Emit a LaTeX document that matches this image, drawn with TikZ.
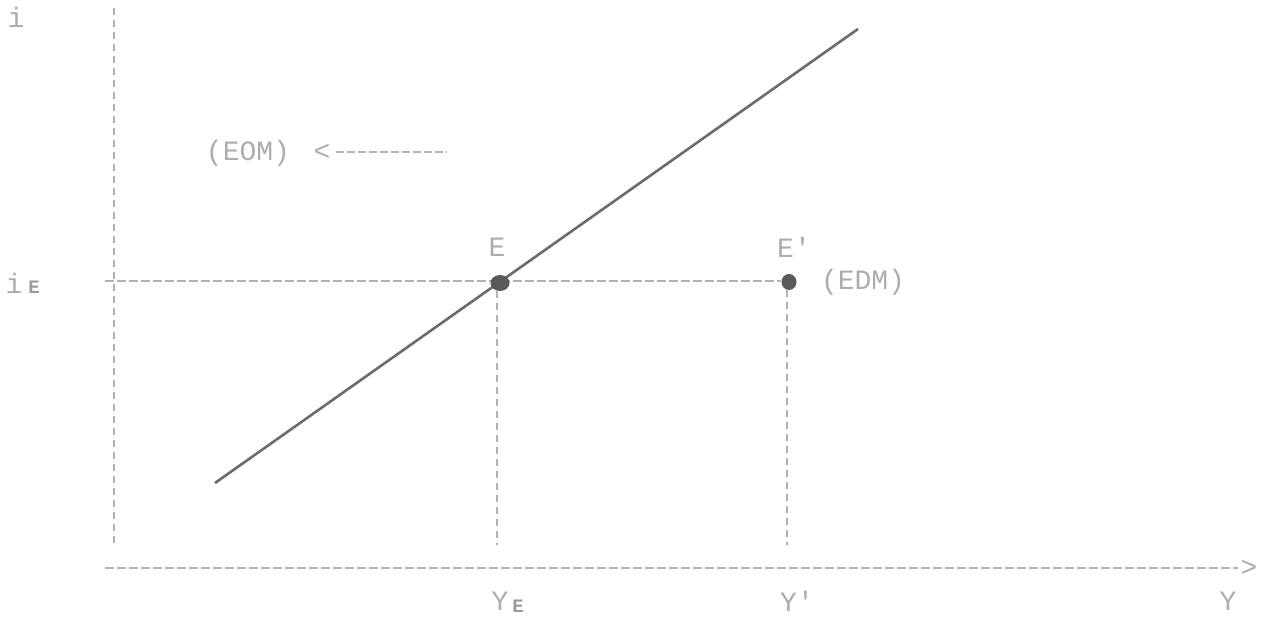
\documentclass[tikz,border=0pt]{standalone}
\usepackage{fontspec}
\setmonofont{Liberation Mono}
\usetikzlibrary{shapes.geometric}
\begin{document}
\begin{tikzpicture}[x=1pt,y=-1pt,
  lbl/.style={text=black!32, font=\ttfamily\fontsize{28}{28}\selectfont, inner sep=0pt},
  sub/.style={text=black!40, font=\ttfamily\bfseries\fontsize{19}{19}\selectfont, inner sep=0pt},
  guide/.style={draw=black!30, line width=1.3pt, dash pattern=on 9pt off 3pt},
  vguide/.style={draw=black!30, line width=1.3pt, dash pattern=on 7pt off 5pt},
  curve/.style={draw=black!58, line width=2.6pt},
  dot/.style={ellipse, fill=black!65, minimum width=19pt, minimum height=16pt, inner sep=0pt}]
\useasboundingbox[fill=white] (0,0) rectangle (1263,617);
% axes
\coordinate (ytop) at (114,8);
\coordinate (ybot) at (114,545);
\coordinate (xl) at (105,568);
\coordinate (xr) at (1238,568);
\draw[vguide] (ytop) -- (ybot);
\draw[guide] (xl) -- (xr);
\node[lbl] (xarr) at (1249,568) {>};
\node[lbl] (ilab) at (16,17) {i};
\node[lbl] (ielab) at (14,283) {i};
\node[sub] (iesub) at (34,287) {E};
\node[lbl] (ylab) at (1228,601) {Y};
\node[lbl] (yelab) at (500,601) {Y};
\node[sub] (yesub) at (518,606) {E};
\node[lbl] (yplab) at (797,601) {Y'};
% guides (under the points)
\coordinate (Ec) at (500,283);
\coordinate (Epc) at (789,282);
\coordinate (hl) at (105,281);
\coordinate (hr) at (781,281);
\draw[guide] (hl) -- (hr);
\coordinate (v1t) at (497,291);
\coordinate (v1b) at (497,545);
\coordinate (v2t) at (787,290);
\coordinate (v2b) at (787,545);
\draw[vguide] (v1t) -- (v1b);
\draw[vguide] (v2t) -- (v2b);
% line
\coordinate (la) at (215,483);
\coordinate (lb) at (858,29);
\draw[curve] (la) -- (lb);
% points
\node[dot] (E) at (Ec) {};
\node[dot, minimum width=15pt, minimum height=16pt] (Ep) at (Epc) {};
\node[lbl] (Elab) at (497,247) {E};
\node[lbl] (Eplab) at (794,247) {E'};
\node[lbl] (edm) at (863,282) {(EDM)};
% EOM
\node[lbl] (eom) at (248,153) {(EOM)};
\node[lbl] (lt) at (322,152) {<};
\coordinate (eomend) at (446,152);
\draw[guide, line width=1.1pt, dash pattern=on 8pt off 3pt] (lt.east) ++(5,0) -- (eomend);
\end{tikzpicture}
\end{document}
